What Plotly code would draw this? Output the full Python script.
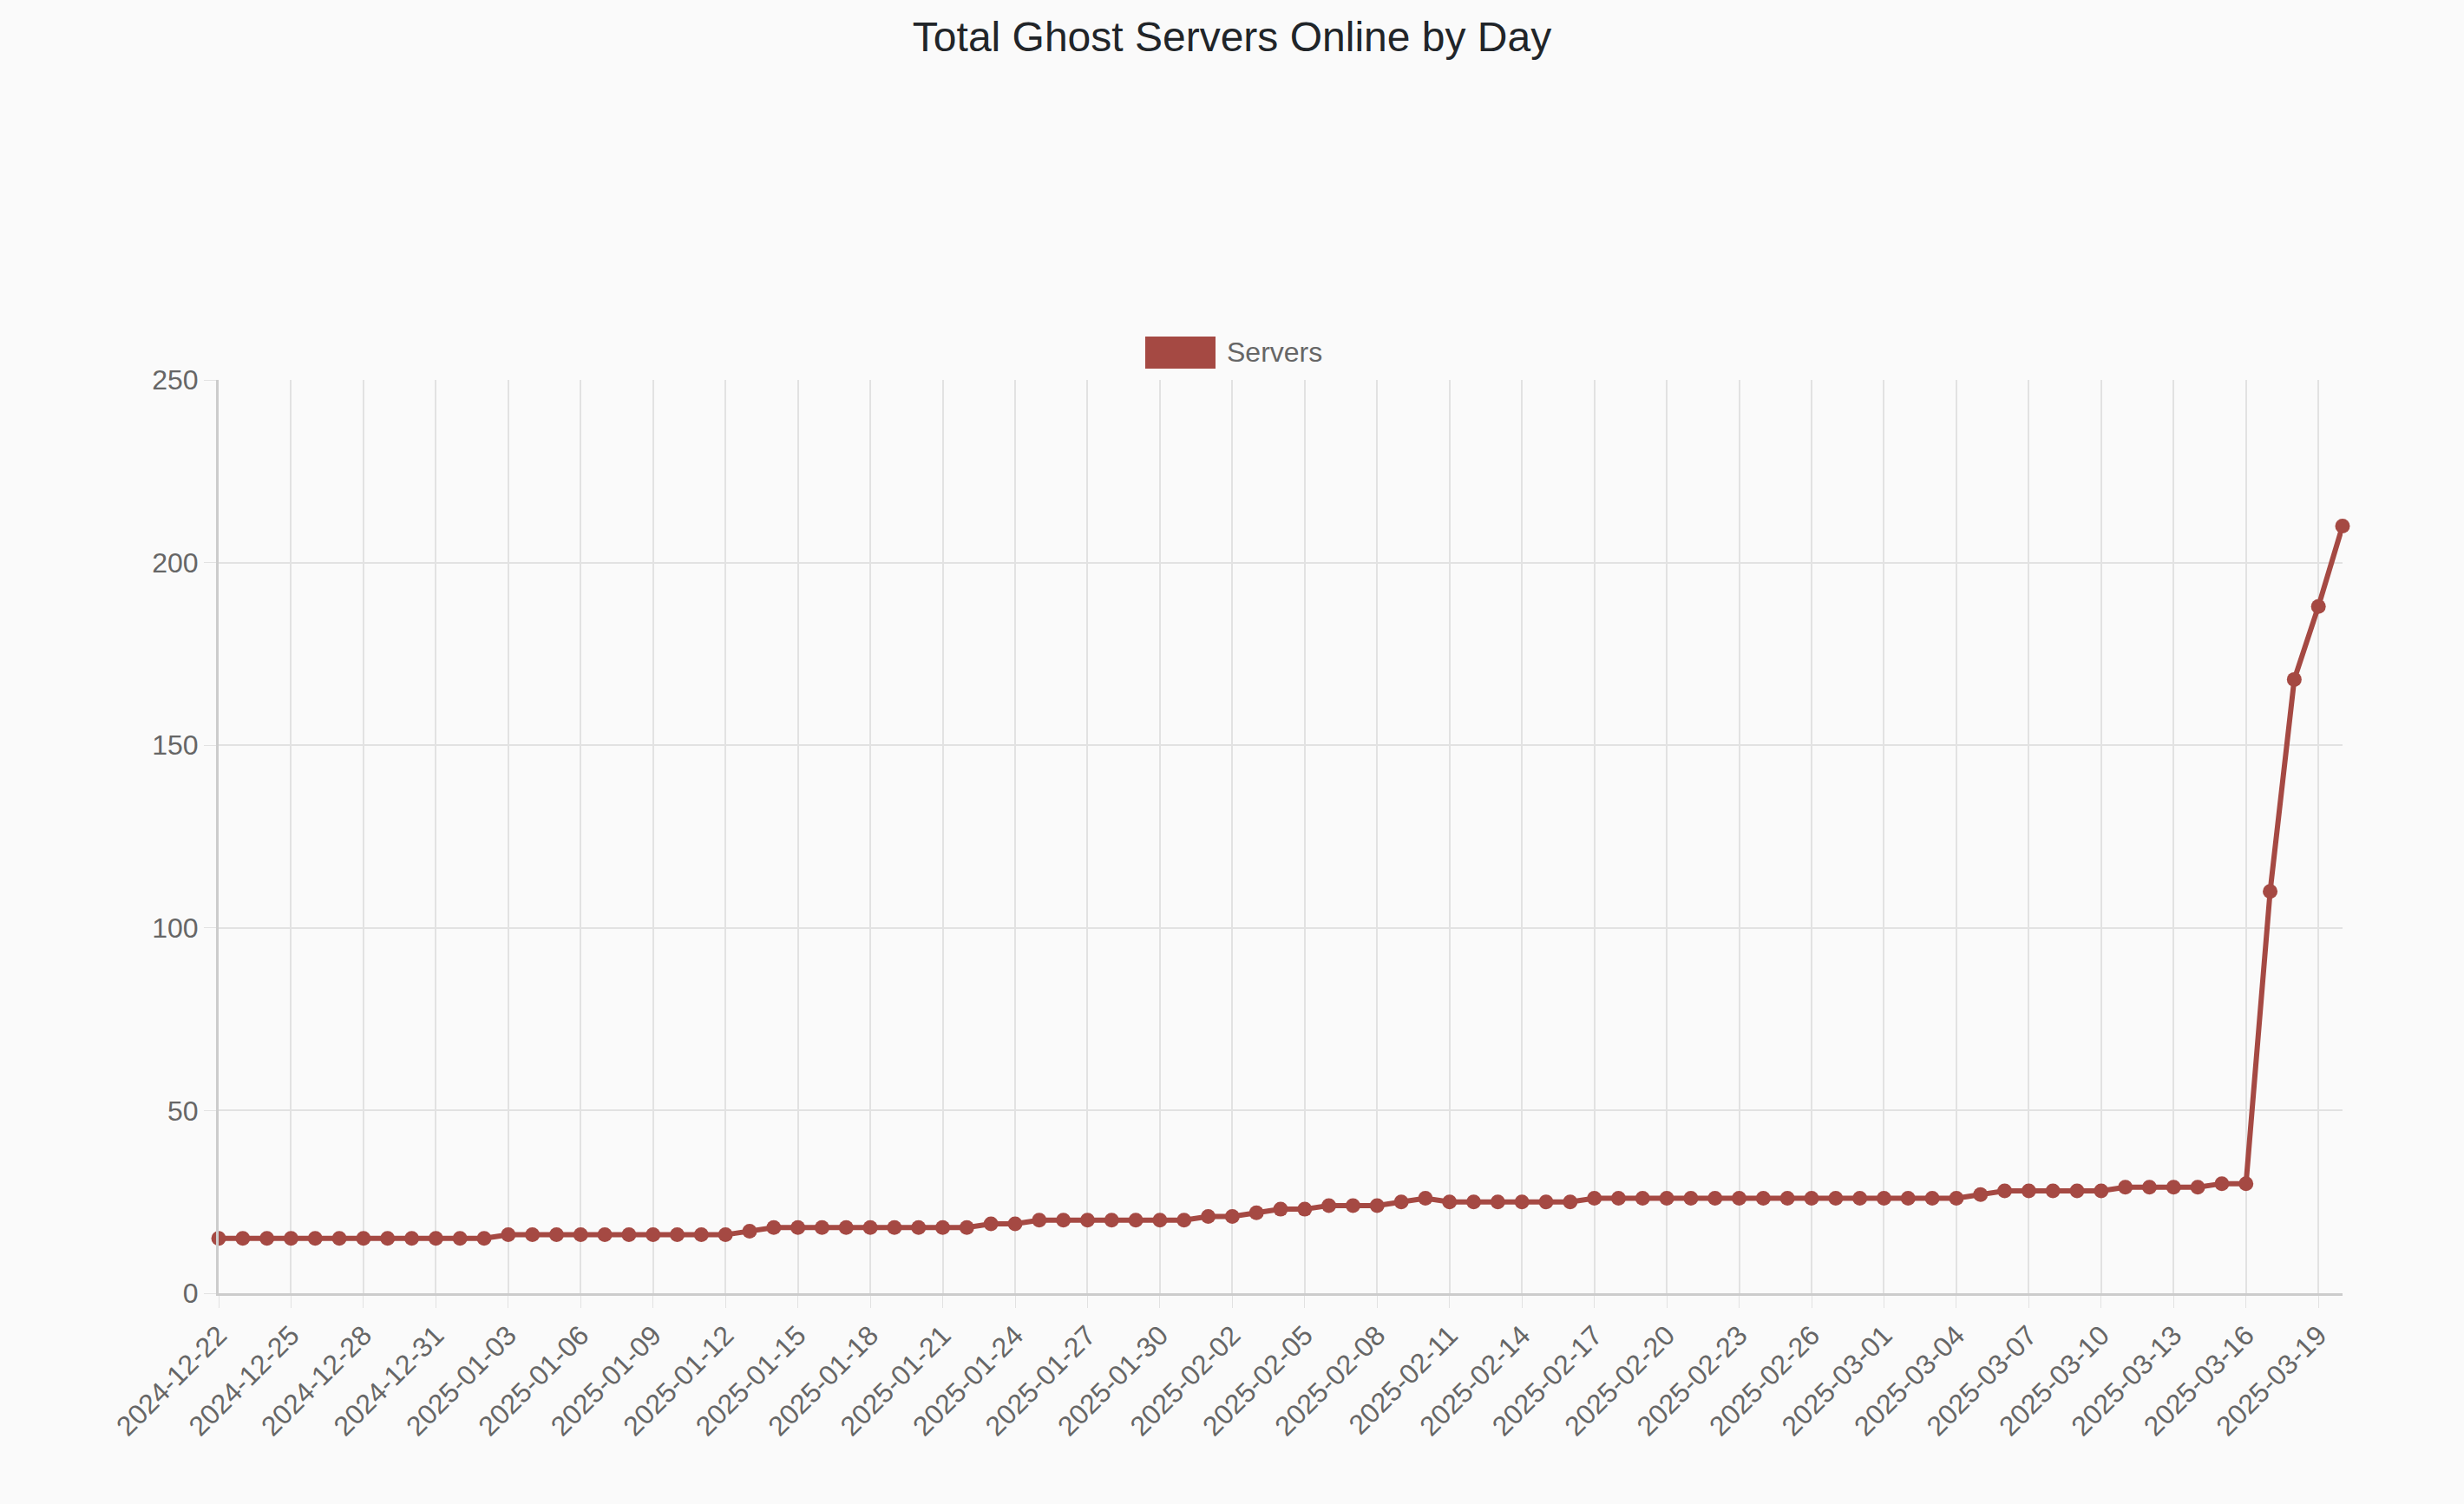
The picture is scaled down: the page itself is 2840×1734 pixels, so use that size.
import pandas as pd
import plotly.graph_objects as go

# daily totals, 2024-12-22 .. 2025-03-20
dates = pd.date_range("2024-12-22", "2025-03-20", freq="D")
servers = [
    15, 15, 15, 15, 15, 15, 15, 15, 15, 15, 15, 15,      # Dec 22 - Jan 2
    16, 16, 16, 16, 16, 16, 16, 16, 16, 16,              # Jan 3 - Jan 12
    17,
    18, 18, 18, 18, 18, 18, 18, 18, 18,                  # Jan 14 - Jan 22
    19, 19,
    20, 20, 20, 20, 20, 20, 20,                          # Jan 25 - Jan 31
    21, 21, 22, 23, 23, 24, 24, 24, 25, 26,              # Feb 1 - Feb 10
    25, 25, 25, 25, 25, 25,                              # Feb 11 - Feb 16
    26, 26, 26, 26, 26, 26, 26, 26, 26, 26, 26, 26,      # Feb 17 - Feb 28
    26, 26, 26, 26,                                      # Mar 1 - Mar 4
    27, 28, 28, 28, 28, 28, 29, 29, 29, 29, 30, 30,      # Mar 5 - Mar 16
    110, 168, 188, 210,                                  # Mar 17 - Mar 20
]

line_color = "#a54943"
grid_color = "#e2e2e2"
font_family = "Liberation Sans, Arial, Helvetica, sans-serif"

fig = go.Figure()

fig.add_trace(
    go.Scatter(
        x=dates,
        y=servers,
        name="Servers",
        mode="lines+markers",
        line=dict(color=line_color, width=6),
        marker=dict(color=line_color, size=17),
        cliponaxis=False,
        showlegend=False,
    )
)

# chart.js style legend box
fig.add_shape(
    type="rect", xref="paper", yref="paper",
    x0=(1320 - 252) / 2448, x1=(1401 - 252) / 2448,
    y0=(1491 - 425) / 1053, y1=(1491 - 388) / 1053,
    fillcolor=line_color, line=dict(width=0),
)
fig.add_annotation(
    text="Servers", xref="paper", yref="paper",
    x=(1412 - 252) / 2448, y=(1491 - 406) / 1053,
    xanchor="left", yanchor="middle", showarrow=False,
    font=dict(size=32, color="#666666", family=font_family),
)

fig.update_layout(
    width=2840,
    height=1734,
    margin=dict(l=252, r=140, t=438, b=243),
    paper_bgcolor="#fafafa",
    plot_bgcolor="#fafafa",
    font=dict(family=font_family, size=32, color="#666666"),
    title=dict(
        text="Total Ghost Servers Online by Day",
        x=0.5, xanchor="center",
        y=1 - 42 / 1734, yanchor="middle",
        font=dict(size=48, color="#212529", family=font_family),
    ),
)

fig.update_xaxes(
    range=[dates[0], dates[-1]],
    tick0="2024-12-22",
    dtick=3 * 86400000,
    tickformat="%Y-%m-%d",
    tickangle=-45,
    ticks="outside",
    ticklen=14,
    tickcolor=grid_color,
    showgrid=True,
    gridcolor=grid_color,
    gridwidth=2,
    showline=True,
    linecolor="#cccccc",
    linewidth=3,
    zeroline=False,
    tickfont=dict(size=32, color="#666666"),
)

fig.update_yaxes(
    range=[0, 250],
    dtick=50,
    ticks="outside",
    ticklen=14,
    tickcolor=grid_color,
    showgrid=True,
    gridcolor=grid_color,
    gridwidth=2,
    showline=True,
    linecolor="#cccccc",
    linewidth=3,
    zeroline=False,
    tickfont=dict(size=32, color="#666666"),
)

fig.write_html(
    "out.html",
    config={"displayModeBar": False},
    post_script="document.body.style.margin='0';document.body.style.background='#fafafa';",
)
